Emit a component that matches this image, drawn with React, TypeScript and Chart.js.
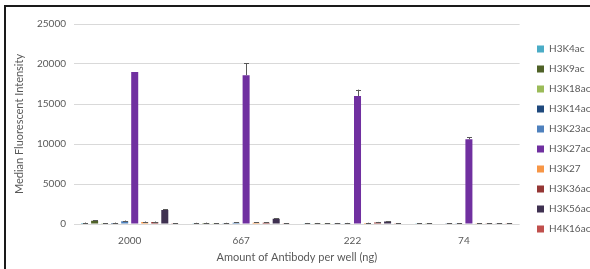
import React, { useEffect, useRef } from "react";
import { Chart, registerables } from "chart.js";

Chart.register(...registerables);

const categories = ["2000", "667", "222", "74"];
const seriesNames = ["H3K4ac", "H3K9ac", "H3K18ac", "H3K14ac", "H3K23ac", "H3K27ac", "H3K27", "H3K36ac", "H3K56ac", "H4K16ac"];
const seriesColors = ["#4BACC6", "#4F6228", "#9BBB59", "#1F497D", "#4F81BD", "#7030A0", "#F79646", "#953735", "#3F3151", "#C0504D"];
const yTicks = [0, 5000, 10000, 15000, 20000, 25000];

const H3K4ac = [120, 100, 90, 80];
const H3K9ac = [400, 120, 90, 80];
const H3K18ac = [80, 80, 80, 0];
const H3K14ac = [130, 100, 90, 80];
const H3K23ac = [350, 150, 100, 80];
const H3K27ac = [19000, 18600, 16000, 10600];
const H3K27 = [250, 150, 120, 80];
const H3K36ac = [250, 150, 200, 80];
const H3K56ac = [1750, 650, 300, 80];
const H4K16ac = [80, 80, 80, 80];

const H3K4acErr = [60, 50, 40, 40];
const H3K9acErr = [80, 50, 40, 40];
const H3K18acErr = [40, 40, 40, 0];
const H3K14acErr = [50, 50, 40, 40];
const H3K23acErr = [80, 50, 40, 40];
const H3K27acErr = [0, 1500, 800, 250];
const H3K27Err = [60, 50, 40, 40];
const H3K36acErr = [60, 50, 60, 40];
const H3K56acErr = [100, 100, 60, 40];
const H4K16acErr = [40, 40, 40, 40];

const seriesValues = [H3K4ac, H3K9ac, H3K18ac, H3K14ac, H3K23ac, H3K27ac, H3K27, H3K36ac, H3K56ac, H4K16ac];
const seriesErrors = [H3K4acErr, H3K9acErr, H3K18acErr, H3K14acErr, H3K23acErr, H3K27acErr, H3K27Err, H3K36acErr, H3K56acErr, H4K16acErr];

const FONT = "Lato, 'Open Sans', sans-serif";

const errorBarPlugin = {
  id: "errorBars",
  afterDatasetsDraw(chart: any) {
    const ctx = chart.ctx;
    const yScale = chart.scales.y;
    ctx.save();
    ctx.strokeStyle = "#595959";
    ctx.lineWidth = 1;
    chart.data.datasets.forEach((ds: any, i: number) => {
      const meta = chart.getDatasetMeta(i);
      if (meta.hidden) return;
      meta.data.forEach((bar: any, j: number) => {
        const err = ds.errors ? ds.errors[j] : 0;
        const v = ds.data[j];
        if (!err || !v) return;
        const x = Math.round(bar.x) + 0.5;
        const y0 = yScale.getPixelForValue(v);
        const y1 = yScale.getPixelForValue(v + err);
        ctx.beginPath();
        ctx.moveTo(x, y0);
        ctx.lineTo(x, y1);
        ctx.moveTo(x - 2.5, Math.round(y1) + 0.5);
        ctx.lineTo(x + 2.5, Math.round(y1) + 0.5);
        ctx.stroke();
      });
    });
    ctx.restore();
  },
};

const legendShiftPlugin = {
  id: "legendShift",
  afterLayout(chart: any) {
    const lg = chart.legend;
    if (!lg) return;
    const w = lg.right - lg.left;
    lg.left = 527;
    lg.right = 527 + w;
    lg.top -= 5;
    lg.bottom -= 5;
  },
};

export default function App() {
  const canvasRef = useRef<HTMLCanvasElement | null>(null);

  useEffect(() => {
    document.body.style.margin = "0";
    const canvas = canvasRef.current;
    if (!canvas) return;
    const chart = new Chart(canvas, {
      type: "bar",
      data: {
        labels: categories,
        datasets: seriesNames.map((name, i) => ({
          label: name,
          data: seriesValues[i],
          errors: seriesErrors[i],
          backgroundColor: seriesColors[i],
          borderWidth: 0,
          barPercentage: 0.7,
          categoryPercentage: 0.9,
        })) as any,
      },
      options: {
        animation: false,
        responsive: false,
        maintainAspectRatio: false,
        layout: { padding: { left: 13, right: -3, top: 24, bottom: 5 } },
        plugins: {
          legend: {
            position: "right",
            labels: {
              boxWidth: 7,
              boxHeight: 7,
              padding: 10,
              color: "#595959",
              font: { family: FONT, size: 10 },
            },
          },
          tooltip: { enabled: false },
        },
        scales: {
          x: {
            grid: { display: false },
            border: { display: false },
            ticks: { color: "#595959", font: { family: FONT, size: 10 }, padding: 3 },
            title: {
              display: true,
              text: "Amount of Antibody per well (ng)",
              color: "#595959",
              font: { family: FONT, size: 11 },
              padding: { top: 0, bottom: 0 },
            },
            afterFit(s: any) {
              s.height = 40;
            },
          },
          y: {
            min: 0,
            max: 25000,
            afterBuildTicks(s: any) {
              s.ticks = yTicks.map((v) => ({ value: v }));
            },
            ticks: {
              color: "#595959",
              font: { family: FONT, size: 10 },
              padding: 8,
              callback: (v: any) => String(v),
            },
            grid: { color: "#D9D9D9", drawTicks: false },
            border: { display: false },
            title: {
              display: true,
              text: "Median Fluorescent Intensity",
              color: "#595959",
              font: { family: FONT, size: 11 },
              padding: { top: 0, bottom: 8 },
            },
            afterFit(s: any) {
              s.width = 61;
            },
          },
        },
      } as any,
      plugins: [errorBarPlugin, legendShiftPlugin],
    });
    return () => chart.destroy();
  }, []);

  return (
    <div style={{ position: "relative", width: 590, height: 269, overflow: "hidden", background: "#fff" }}>
      <div
        style={{
          position: "absolute",
          left: 4,
          top: 5,
          width: 700,
          height: 400,
          borderTop: "2px solid #1a1a1a",
          borderLeft: "2px solid #1a1a1a",
        }}
      />
      <canvas ref={canvasRef} width={590} height={269} style={{ position: "absolute", left: 0, top: 0 }} />
    </div>
  );
}
